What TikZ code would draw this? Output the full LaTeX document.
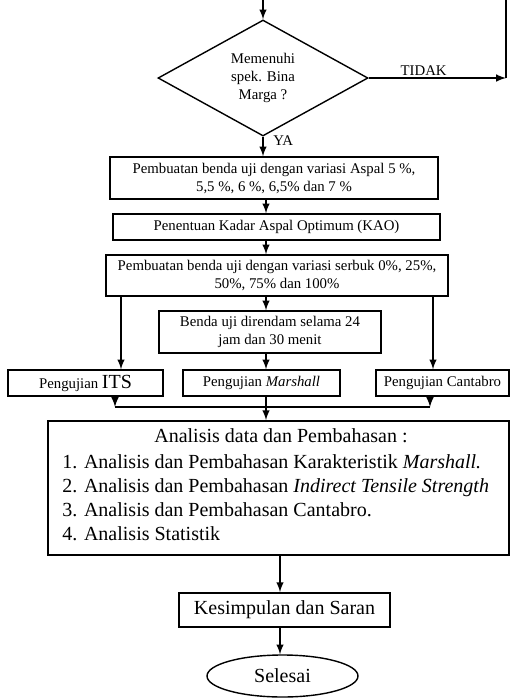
\documentclass[tikz,border=0pt]{standalone}
\usepackage{fontspec}
\setmainfont{Liberation Serif}
\usetikzlibrary{shapes.geometric}
\newcommand{\kecil}{\fontsize{7.4}{9}\selectfont}
\newcommand{\besar}{\fontsize{10}{12}\selectfont}
\tikzset{
  kotak/.style={draw, rectangle, line width=0.7pt, align=center, inner sep=0pt, font=\kecil},
  keputusan/.style={draw, diamond, aspect=1.8, line width=0.7pt, align=center, inner sep=0pt, font=\kecil},
  panah/.style={->, >=latex, line width=0.7pt},
  garis/.style={line width=0.7pt}
}

\begin{document}
\begin{tikzpicture}[x=0.5pt,y=-0.5pt]
  \useasboundingbox (0,0) rectangle (510,698);
  % sumbu panah
  \coordinate (mulai) at (263,0);
  \coordinate (sumbu) at (266,0);
  \coordinate (sumbuB) at (280,0);
  \coordinate (kolITS) at (121,0);
  \coordinate (kolCan) at (433,0);
  \coordinate (balik) at (506,78);
  \coordinate (balikAtas) at (506,0);
  \coordinate (kiri) at (115,407);
  \coordinate (kanan) at (430,407);

  % keputusan
  \node[keputusan, minimum width=105pt, minimum height=58pt] (cek) at (263,78) {Memenuhi\\spek. Bina\\Marga ?};
  \node[font=\kecil, anchor=west, inner sep=0pt] (ya) at ([xshift=5pt,yshift=-2pt]cek.south) {YA};

  % kotak proses
  \node[kotak, minimum width=164pt, minimum height=21pt] (uji1) at (274,178) {Pembuatan benda uji dengan variasi Aspal 5 \%,\\5,5 \%, 6 \%, 6,5\% dan 7 \%};
  \node[kotak, minimum width=163.5pt, minimum height=13pt] (kao) at (276.5,227) {Penentuan Kadar Aspal Optimum (KAO)};
  \node[kotak, minimum width=171pt, minimum height=20.5pt] (uji2) at (277,275.5) {Pembuatan benda uji dengan variasi serbuk 0\%, 25\%,\\50\%, 75\% dan 100\%};
  \node[kotak, minimum width=111pt, minimum height=21pt] (rendam) at (270,332) {Benda uji direndam selama 24\\jam dan 30 menit};

  % pengujian
  \node[kotak, minimum width=77.5pt, minimum height=13pt] (its) at (85.5,383) {Pengujian {\besar ITS}};
  \node[kotak, minimum width=78.5pt, minimum height=13pt] (marshall) at (261.5,383) {Pengujian \textit{Marshall}};
  \node[kotak, minimum width=66.5pt, minimum height=13pt] (cantabro) at (442.5,383) {Pengujian Cantabro};

  % analisis
  \node[kotak, line width=0.9pt, minimum width=230.5pt, minimum height=67pt] (analisis) at (278.5,488) {};
  \node[font=\besar, inner sep=0pt] (judul) at (281,436) {Analisis data dan Pembahasan :};
  \foreach \n/\teks in {1/{Analisis dan Pembahasan Karakteristik \textit{Marshall.}},
                        2/{Analisis dan Pembahasan \textit{Indirect Tensile Strength}},
                        3/{Analisis dan Pembahasan Cantabro.},
                        4/{Analisis Statistik}}
    \node[font=\besar, anchor=base west, inner sep=0pt] (butir\n) at (62,444+24.2*\n) {\n. \teks};

  % akhir
  \node[kotak, font=\besar, line width=0.9pt, minimum width=105.5pt, minimum height=17pt] (simpul) at (284.5,610) {Kesimpulan dan Saran};
  \node[draw, ellipse, line width=0.7pt, font=\besar, minimum width=75.5pt, minimum height=21pt, inner sep=0pt] (selesai) at (282.5,676) {Selesai};

  % panah
  \draw[panah] (mulai) -- (cek.north);
  \draw[panah] (cek.east) -- node[above, pos=0.4, font=\kecil, inner sep=1pt] (tidak) {TIDAK} (balik);
  \draw[garis] (balik) -- (balikAtas);
  \draw[panah] (cek.south) -- (uji1.north -| cek.south);
  \draw[panah] (uji1.south -| sumbu) -- (kao.north -| sumbu);
  \draw[panah] (kao.south -| sumbu) -- (uji2.north -| sumbu);
  \draw[panah] (uji2.south -| sumbu) -- (rendam.north -| sumbu);
  \draw[panah] (rendam.south -| sumbu) -- (marshall.north -| sumbu);
  \draw[panah] (uji2.south -| kolITS) -- (its.north -| kolITS);
  \draw[panah] (uji2.south -| kolCan) -- (cantabro.north -| kolCan);
  \draw[panah] (its.south -| kiri) -- (kiri);
  \draw[panah] (cantabro.south -| kanan) -- (kanan);
  \draw[garis] (kiri) -- (kanan);
  \draw[panah] (marshall.south -| sumbu) -- (analisis.north -| sumbu);
  \draw[panah] (analisis.south -| sumbuB) -- (simpul.north -| sumbuB);
  \draw[panah] (simpul.south -| sumbuB) -- (selesai.north -| sumbuB);
\end{tikzpicture}
\end{document}
